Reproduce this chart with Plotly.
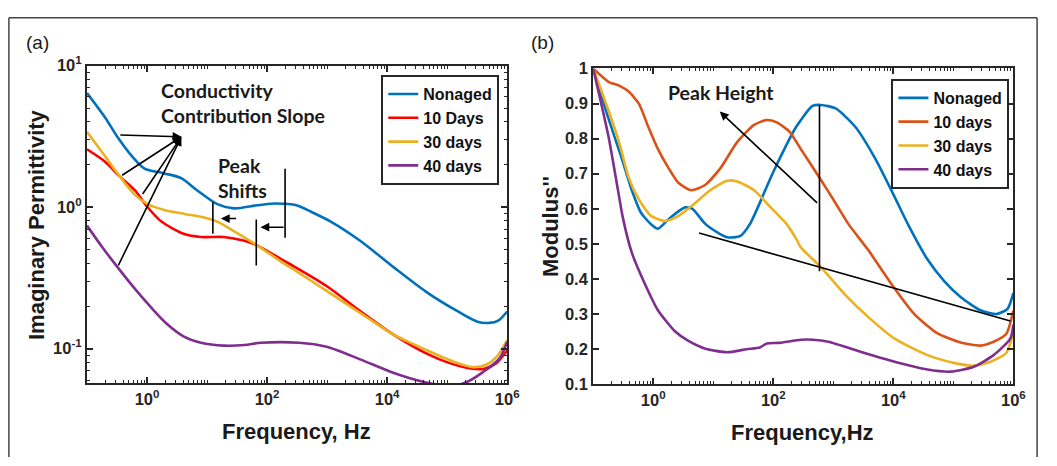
import plotly.graph_objects as go

W, H = 1057, 466

# ---------------- data: panel (a) imaginary permittivity ----------------
a_nonaged_f = [0.1, 0.2, 0.32, 0.56, 0.91, 1.95, 3.7, 6.9, 14.8, 28, 68, 145, 310, 560, 1150, 3550, 12600, 44700, 162000, 320000, 500000, 710000, 1000000]
a_nonaged_v = [6.4, 4.3, 3.14, 2.29, 1.87, 1.73, 1.60, 1.31, 1.05, 0.98, 1.03, 1.06, 1.03, 0.92, 0.79, 0.578, 0.378, 0.252, 0.18, 0.155, 0.152, 0.158, 0.183]

a_10d_f = [0.1, 0.2, 0.35, 0.63, 1.02, 1.74, 4.2, 7.9, 19, 42, 68, 190, 275, 980, 3550, 12600, 44700, 110000, 263000, 417000, 660000, 1000000]
a_10d_v = [2.56, 2.09, 1.65, 1.31, 1.0, 0.79, 0.645, 0.615, 0.615, 0.578, 0.537, 0.418, 0.383, 0.277, 0.184, 0.126, 0.0925, 0.079, 0.072, 0.072, 0.079, 0.097]

a_30d_f = [0.1, 0.2, 0.35, 0.63, 1.02, 1.95, 4.2, 7.9, 14.8, 28, 68, 190, 275, 980, 3550, 12600, 44700, 110000, 263000, 447000, 660000, 1000000]
a_30d_v = [3.4, 2.29, 1.65, 1.22, 1.05, 0.955, 0.895, 0.855, 0.79, 0.676, 0.537, 0.40, 0.363, 0.256, 0.179, 0.126, 0.098, 0.083, 0.074, 0.077, 0.087, 0.115]

a_40d_f = [0.1, 0.18, 0.32, 0.63, 1.2, 2.2, 4.2, 7.9, 19, 42, 79, 340, 980, 3550, 12600, 44700, 110000, 204000, 390000, 740000, 1000000]
a_40d_v = [0.74, 0.52, 0.378, 0.264, 0.193, 0.148, 0.121, 0.11, 0.105, 0.106, 0.11, 0.11, 0.103, 0.084, 0.0676, 0.0576, 0.054, 0.0576, 0.068, 0.085, 0.112]

# ---------------- data: panel (b) modulus ----------------
b_nonaged_f = [0.1, 0.17, 0.3, 0.44, 0.63, 0.93, 1.2, 1.9, 3.4, 4.5, 7.1, 8.9, 17, 28, 41, 100, 240, 450, 620, 1100, 2340, 5000, 10500, 17400, 37000, 71000, 135000, 282000, 525000, 800000, 1000000]
b_nonaged_v = [1.0, 0.87, 0.743, 0.653, 0.588, 0.555, 0.543, 0.574, 0.604, 0.60, 0.56, 0.546, 0.519, 0.522, 0.557, 0.705, 0.833, 0.893, 0.896, 0.886, 0.833, 0.743, 0.634, 0.557, 0.456, 0.393, 0.347, 0.311, 0.30, 0.315, 0.36]

b_10d_f = [0.1, 0.18, 0.27, 0.39, 0.58, 0.83, 1.2, 1.8, 2.6, 4.3, 7.2, 13.2, 25, 48, 78, 112, 186, 288, 620, 1100, 1780, 3800, 9550, 22400, 53700, 132000, 282000, 468000, 760000, 1000000]
b_10d_v = [1.0, 0.962, 0.951, 0.934, 0.899, 0.833, 0.77, 0.716, 0.675, 0.653, 0.667, 0.716, 0.79, 0.839, 0.853, 0.847, 0.82, 0.77, 0.683, 0.615, 0.557, 0.483, 0.383, 0.30, 0.246, 0.219, 0.21, 0.221, 0.243, 0.31]

b_30d_f = [0.1, 0.18, 0.27, 0.39, 0.58, 0.93, 1.58, 2.6, 4.9, 8.9, 17, 25, 48, 87, 166, 240, 288, 620, 1580, 3800, 10500, 37000, 102000, 219000, 417000, 760000, 1000000]
b_30d_v = [1.0, 0.88, 0.79, 0.689, 0.626, 0.579, 0.565, 0.579, 0.615, 0.653, 0.68, 0.678, 0.653, 0.607, 0.557, 0.515, 0.49, 0.434, 0.355, 0.292, 0.23, 0.183, 0.161, 0.153, 0.164, 0.189, 0.246]

b_40d_f = [0.1, 0.18, 0.26, 0.31, 0.44, 0.74, 1.2, 2.3, 3.8, 7.2, 17, 36, 60, 78, 126, 288, 457, 830, 3020, 10500, 37000, 91000, 219000, 468000, 890000, 1000000]
b_40d_v = [1.0, 0.806, 0.651, 0.577, 0.475, 0.383, 0.311, 0.251, 0.224, 0.202, 0.191, 0.2, 0.205, 0.216, 0.218, 0.227, 0.227, 0.221, 0.191, 0.164, 0.142, 0.136, 0.15, 0.183, 0.23, 0.27]

legend_a = ["Nonaged", "10 Days", "30 days", "40 days"]
legend_b = ["Nonaged", "10 days", "30 days", "40 days"]
colors_a = ["#0072BD", "#FF0000", "#EDB120", "#7E2F8E"]
colors_b = ["#0072BD", "#D95319", "#EDB120", "#7E2F8E"]

x_tickvals = [1, 100, 1e4, 1e6]
x_ticktext = ["10<sup>0</sup>", "10<sup>2</sup>", "10<sup>4</sup>", "10<sup>6</sup>"]
ya_tickvals = [0.1, 1, 10]
ya_ticktext = ["10<sup>-1</sup>", "10<sup>0</sup>", "10<sup>1</sup>"]

# annotation geometry (log10 units for log axes)
cond_head = (0.573, 0.497)
cond_tails = [(-0.47, 0.51), (-0.44, 0.218), (-0.09, 0.082), (-0.49, -0.422)]
shift_arrows = [((1.51, -0.081), (1.23, -0.081)), ((2.30, -0.142), (1.89, -0.142))]
shift_bars = [(1.097, 0.034, -0.189), (2.30, 0.27, -0.216), (1.82, -0.088, -0.412)]
height_arrow = ((2.756, 0.613), (1.109, 0.877))
height_bar = (2.77, 0.896, 0.422)
trend_line = ((0.763, 0.531), (5.95, 0.28))

# ---------------- figure ----------------
fig = go.Figure()
series_a = [(a_nonaged_f, a_nonaged_v), (a_10d_f, a_10d_v), (a_30d_f, a_30d_v), (a_40d_f, a_40d_v)]
series_b = [(b_nonaged_f, b_nonaged_v), (b_10d_f, b_10d_v), (b_30d_f, b_30d_v), (b_40d_f, b_40d_v)]

for (f, v), name, c in zip(series_a, legend_a, colors_a):
    fig.add_trace(go.Scatter(x=f, y=v, mode="lines", name=name, xaxis="x", yaxis="y",
                             line=dict(color=c, width=2.6, shape="spline", smoothing=0.8),
                             legend="legend"))
for (f, v), name, c in zip(series_b, legend_b, colors_b):
    fig.add_trace(go.Scatter(x=f, y=v, mode="lines", name=name, xaxis="x2", yaxis="y2",
                             line=dict(color=c, width=2.6, shape="spline", smoothing=0.6),
                             legend="legend2"))

def seg(xa, ya, x0, y0, x1, y1):
    fig.add_trace(go.Scatter(x=[x0, x1], y=[y0, y1], mode="lines", showlegend=False,
                             xaxis=xa, yaxis=ya, hoverinfo="skip",
                             line=dict(color="black", width=1.6)))

for lx, ly0, ly1 in shift_bars:
    seg("x", "y", 10 ** lx, 10 ** ly0, 10 ** lx, 10 ** ly1)
seg("x2", "y2", 10 ** height_bar[0], height_bar[1], 10 ** height_bar[0], height_bar[2])
seg("x2", "y2", 10 ** trend_line[0][0], trend_line[0][1], 10 ** trend_line[1][0], trend_line[1][1])

ann = []
for tx, ty in cond_tails:
    ann.append(dict(x=cond_head[0], y=cond_head[1], ax=tx, ay=ty, xref="x", yref="y",
                    axref="x", ayref="y", text="", showarrow=True, arrowhead=2,
                    arrowsize=1.1, arrowwidth=1.6, arrowcolor="black"))
for (t, h) in shift_arrows:
    ann.append(dict(x=h[0], y=h[1], ax=t[0], ay=t[1], xref="x", yref="y",
                    axref="x", ayref="y", text="", showarrow=True, arrowhead=2,
                    arrowsize=1.1, arrowwidth=1.6, arrowcolor="black"))
ann.append(dict(x=height_arrow[1][0], y=height_arrow[1][1], ax=height_arrow[0][0], ay=height_arrow[0][1],
                xref="x2", yref="y2", axref="x2", ayref="y2", text="", showarrow=True,
                arrowhead=2, arrowsize=1.1, arrowwidth=1.6, arrowcolor="black"))

def ptext(text, px, py, size, weight="bold", family="Lato", xanchor="center", angle=0, align="center"):
    ann.append(dict(text=text, x=px / W, y=1 - py / H, xref="paper", yref="paper",
                    xanchor=xanchor, yanchor="middle", showarrow=False, textangle=angle,
                    align=align, font=dict(family=family, size=size, color="#1a1a1a", weight=weight)))

ptext("Conductivity<br>Contribution Slope", 161, 96, 19.5, xanchor="left", align="left")
ptext("Peak<br>Shifts", 218, 175, 19.5, xanchor="left", align="left")
ptext("Peak Height", 729, 85, 19.5)
ptext("(a)", 38, 33, 19, weight="normal", family="Liberation Sans")
ptext("(b)", 549, 33, 19, weight="normal", family="Liberation Sans")
ptext("Frequency, Hz", 300, 439, 22, family="Liberation Sans")
ptext("Frequency,Hz", 812, 440, 22, family="Liberation Sans")
ptext("Imaginary Permittivity", 37, 223, 22, family="Liberation Sans", angle=-90)
ptext("Modulus''", 557, 225, 22, family="Liberation Sans", angle=-90)

minor_log_x = [k * 10 ** n for n in range(-1, 6) for k in range(2, 10)] + [10, 1000, 1e5]
minor_log_y = [k * 10 ** n for n in range(-2, 1) for k in range(2, 10)]

axis_common = dict(showline=True, linewidth=2, linecolor="#262626", mirror="ticks",
                   ticks="inside", ticklen=6, tickwidth=1.5, tickcolor="#262626",
                   showgrid=False, zeroline=False,
                   tickfont=dict(family="Liberation Sans", size=16.5, color="#262626", weight="bold"))

fig.update_layout(
    width=W, height=H, margin=dict(l=0, r=0, t=0, b=0),
    paper_bgcolor="white", plot_bgcolor="white",
    xaxis=dict(type="log", range=[-1, 6], domain=[88 / W, 513 / W], anchor="y",
               tickmode="array", tickvals=x_tickvals, ticktext=x_ticktext,
               minor=dict(tickmode="array", tickvals=minor_log_x, ticks="inside", ticklen=3,
                          tickwidth=1, tickcolor="#262626"), **axis_common),
    yaxis=dict(type="log", range=[-1.245, 1], domain=[1 - 389 / H, 1 - 57 / H], anchor="x",
               tickmode="array", tickvals=ya_tickvals, ticktext=ya_ticktext,
               minor=dict(tickmode="array", tickvals=minor_log_y, ticks="inside", ticklen=3,
                          tickwidth=1, tickcolor="#262626"), **axis_common),
    xaxis2=dict(type="log", range=[-1, 6], domain=[600 / W, 1025 / W], anchor="y2",
                tickmode="array", tickvals=x_tickvals, ticktext=x_ticktext,
                minor=dict(tickmode="array", tickvals=minor_log_x, ticks="inside", ticklen=3,
                           tickwidth=1, tickcolor="#262626"), **axis_common),
    yaxis2=dict(range=[0.1, 1], domain=[1 - 390 / H, 1 - 60 / H], anchor="x2",
                tickmode="linear", tick0=0.1, dtick=0.1, **axis_common),
    legend=dict(x=505 / W, y=1 - 67 / H, xanchor="right", yanchor="top",
                bgcolor="white", bordercolor="#262626", borderwidth=2,
                font=dict(family="Liberation Sans", size=16, color="#111", weight="bold"),
                tracegroupgap=0, itemwidth=30),
    legend2=dict(x=1021 / W, y=1 - 71 / H, xanchor="right", yanchor="top",
                 bgcolor="white", bordercolor="#262626", borderwidth=2,
                 font=dict(family="Liberation Sans", size=16, color="#111", weight="bold"),
                 tracegroupgap=0, itemwidth=30),
    annotations=ann,
    shapes=[dict(type="line", xref="paper", yref="paper", x0=9 / W, x1=9 / W, y0=0, y1=1 - 7 / H,
                 line=dict(color="#444", width=1.5)),
            dict(type="line", xref="paper", yref="paper", x0=9 / W, x1=1049 / W, y0=1 - 7 / H, y1=1 - 7 / H,
                 line=dict(color="#444", width=1.5)),
            dict(type="line", xref="paper", yref="paper", x0=1049 / W, x1=1049 / W, y0=0, y1=1 - 7 / H,
                 line=dict(color="#444", width=1.5))],
    showlegend=True,
)

fig.write_html("out.html", config={"displayModeBar": False},
               post_script="document.body.style.margin='0';document.body.style.overflow='hidden';")
